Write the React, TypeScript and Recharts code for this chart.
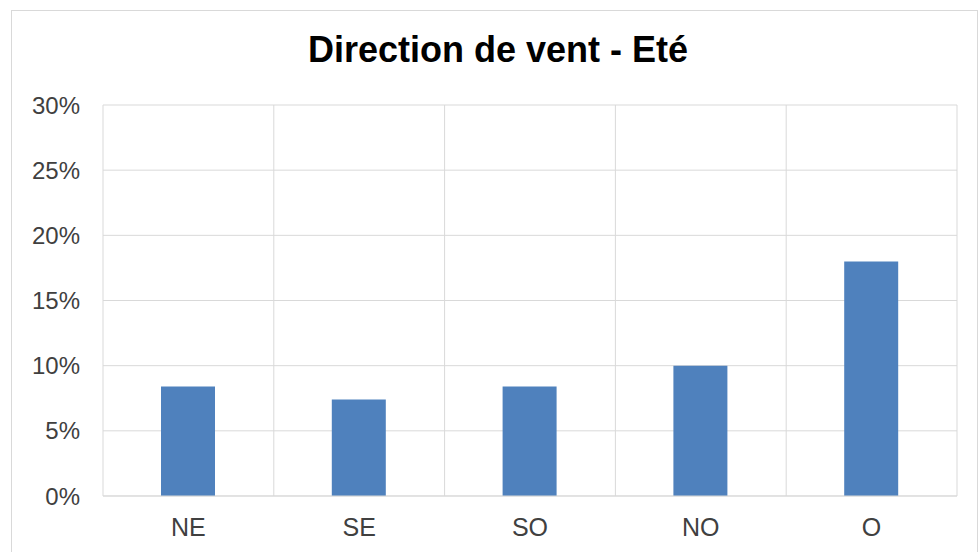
import React from "react";
import { BarChart, Bar, XAxis, YAxis, CartesianGrid } from "recharts";

const directions = ["NE", "SE", "SO", "NO", "O"];
const frequencies = [8.4, 7.4, 8.4, 10.0, 18.0];
const yTicks = [0, 5, 10, 15, 20, 25, 30];
const title = "Direction de vent - Eté";

const data = directions.map((d, i) => ({ name: d, value: frequencies[i] }));

const FONT = "'Liberation Sans', Arial, sans-serif";

export default function App() {
  return (
    <div
      style={{
        position: "absolute",
        left: 0,
        top: 0,
        width: 979,
        height: 552,
        background: "#ffffff",
        overflow: "hidden",
      }}
    >
      <div
        style={{
          position: "absolute",
          left: 11,
          top: 10,
          width: 967,
          height: 600,
          border: "1px solid #d9d9d9",
          boxSizing: "border-box",
        }}
      />
      <div
        style={{
          position: "absolute",
          left: 0,
          top: 32,
          width: 996,
          textAlign: "center",
          fontFamily: FONT,
          fontWeight: "bold",
          fontSize: 36,
          lineHeight: "36px",
          color: "#000000",
        }}
      >
        {title}
      </div>
      <div style={{ position: "absolute", left: 0, top: 0 }}>
        <BarChart
          width={979}
          height={552}
          data={data}
          margin={{ top: 105, right: 22, bottom: 26, left: 43 }}
        >
          <CartesianGrid
            stroke="#d9d9d9"
            vertical={true}
            horizontal={true}
            verticalCoordinatesGenerator={({ offset }: any) =>
              Array.from({ length: directions.length + 1 }, (_, i) =>
                offset.left + (i * offset.width) / directions.length
              )
            }
          />
          <XAxis
            dataKey="name"
            height={30}
            tickSize={0}
            tickMargin={22}
            axisLine={{ stroke: "#d9d9d9" }}
            tickLine={false}
            tick={{ fill: "#404040", fontSize: 25, fontFamily: FONT }}
          />
          <YAxis
            width={60}
            domain={[0, 30]}
            ticks={yTicks}
            tickFormatter={(v: number) => `${v}%`}
            tickSize={0}
            tickMargin={23}
            axisLine={false}
            tickLine={false}
            tick={{ fill: "#404040", fontSize: 24, fontFamily: FONT }}
          />
          <Bar dataKey="value" fill="#4f81bd" barSize={54} isAnimationActive={false} />
        </BarChart>
      </div>
    </div>
  );
}
